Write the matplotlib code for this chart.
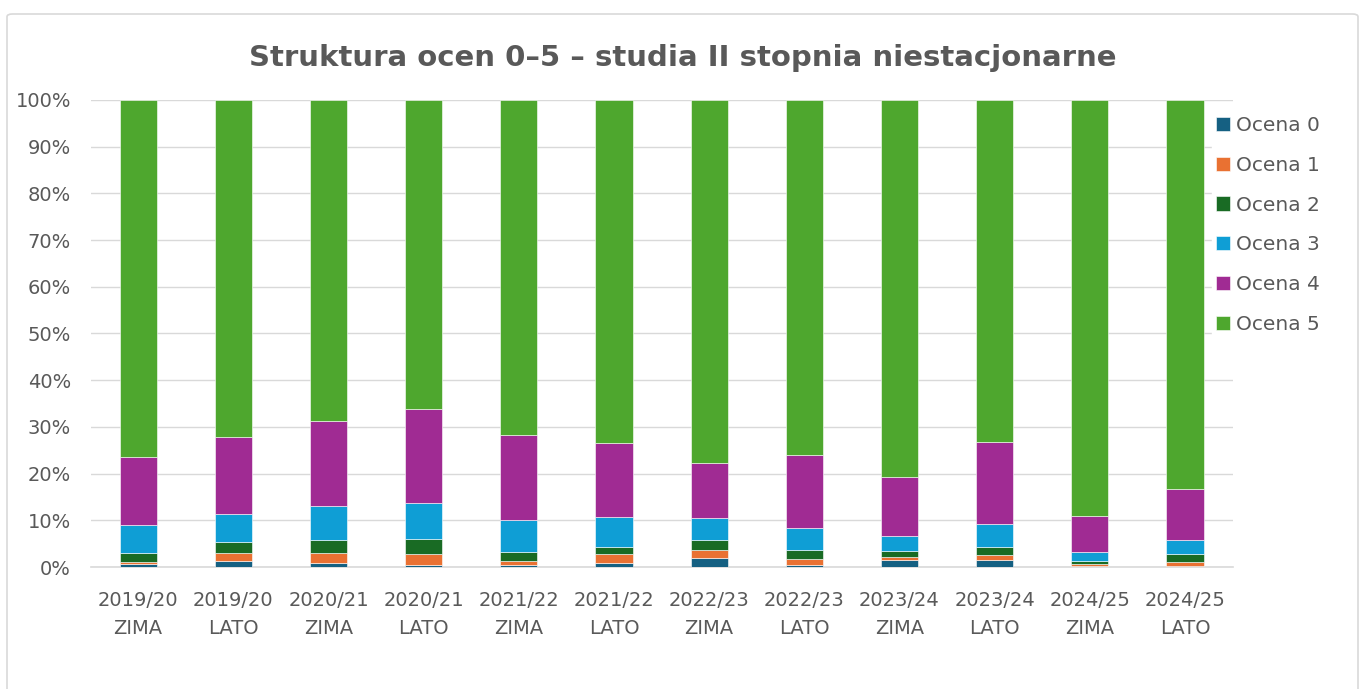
import matplotlib.pyplot as plt
from matplotlib.patches import FancyBboxPatch
import numpy as np

plt.rcParams['font.family'] = ['DejaVu Sans']

# categories (semester)
years = ['2019/20', '2019/20', '2020/21', '2020/21', '2021/22', '2021/22',
         '2022/23', '2022/23', '2023/24', '2023/24', '2024/25', '2024/25']
terms = ['ZIMA', 'LATO'] * 6

# share of each grade, in %
ocena0 = [0.6, 1.4, 0.8, 0.5, 0.35, 0.8, 2.0, 0.5, 1.55, 1.5, 0.15, 0.15]
ocena1 = [0.5, 1.7, 2.2, 2.35, 0.95, 2.0, 1.55, 1.2, 0.7, 1.15, 0.55, 0.9]
ocena2 = [1.8, 2.35, 2.85, 3.2, 2.0, 1.55, 2.3, 2.0, 1.2, 1.7, 0.6, 1.8]
ocena3 = [6.1, 6.0, 7.15, 7.65, 6.7, 6.35, 4.7, 4.65, 3.15, 4.8, 1.9, 2.85]
ocena4 = [14.5, 16.4, 18.3, 20.1, 18.3, 15.85, 11.7, 15.6, 12.65, 17.65, 7.7, 11.0]
ocena5 = [76.5, 72.2, 68.7, 66.2, 71.7, 73.45, 77.75, 76.0, 80.7, 73.2, 89.1, 83.3]

series = [ocena0, ocena1, ocena2, ocena3, ocena4, ocena5]
names = ['Ocena 0', 'Ocena 1', 'Ocena 2', 'Ocena 3', 'Ocena 4', 'Ocena 5']
colors = ['#156082', '#E97132', '#196B24', '#0F9ED5', '#A02B93', '#4EA72E']

grey = '#595959'

fig = plt.figure(figsize=(13.66, 6.89), dpi=100)
ax = fig.add_axes([0.0663, 0.177, 0.836, 0.678])

# chart border
fig.patches.append(FancyBboxPatch((7 / 1366, -0.05), 1351 / 1366, 1.05 - 14 / 689,
                                  boxstyle='round,pad=0,rounding_size=0.004',
                                  transform=fig.transFigure, fill=False,
                                  edgecolor='#D9D9D9', linewidth=1.2))

x = np.arange(len(years))
bottom = np.zeros(len(years))
for vals, name, c in zip(series, names, colors):
    v = np.array(vals)
    ax.bar(x, v, 0.39, bottom=bottom, color=c, label=name, zorder=3,
           edgecolor='white', linewidth=0.4)
    bottom += v

ax.set_xlim(-0.5, len(years) - 0.5)
ax.set_ylim(0, 100)
ax.set_yticks(range(0, 101, 10))
ax.set_yticklabels([f'{t}%' for t in range(0, 101, 10)])
ax.set_xticks(x)
ax.set_xticklabels([f'{a}\n{b}' for a, b in zip(years, terms)], linespacing=1.6)
ax.tick_params(length=0, labelsize=14, colors=grey)
ax.tick_params(axis='x', pad=17)
ax.tick_params(axis='y', pad=14)

ax.grid(axis='y', color='#D9D9D9', linewidth=1, zorder=0)
for s in ['top', 'right', 'left']:
    ax.spines[s].set_visible(False)
ax.spines['bottom'].set_color('#D9D9D9')
ax.spines['bottom'].set_linewidth(1.2)

fig.text(0.5, 0.916, 'Struktura ocen 0–5 – studia II stopnia niestacjonarne',
         ha='center', va='center', fontsize=21, fontweight='bold', color=grey)

leg = fig.legend(loc='upper left', bbox_to_anchor=(1212 / 1366, 1 - 112 / 689),
                 frameon=True, fontsize=14.5, labelcolor=grey,
                 handlelength=0.7, handleheight=0.7, handletextpad=0.3,
                 labelspacing=1.03, borderpad=0.2, borderaxespad=0)
leg.get_frame().set_edgecolor('white')
leg.get_frame().set_facecolor('white')
leg.get_frame().set_alpha(1)

fig.savefig('out.png', dpi=100)
